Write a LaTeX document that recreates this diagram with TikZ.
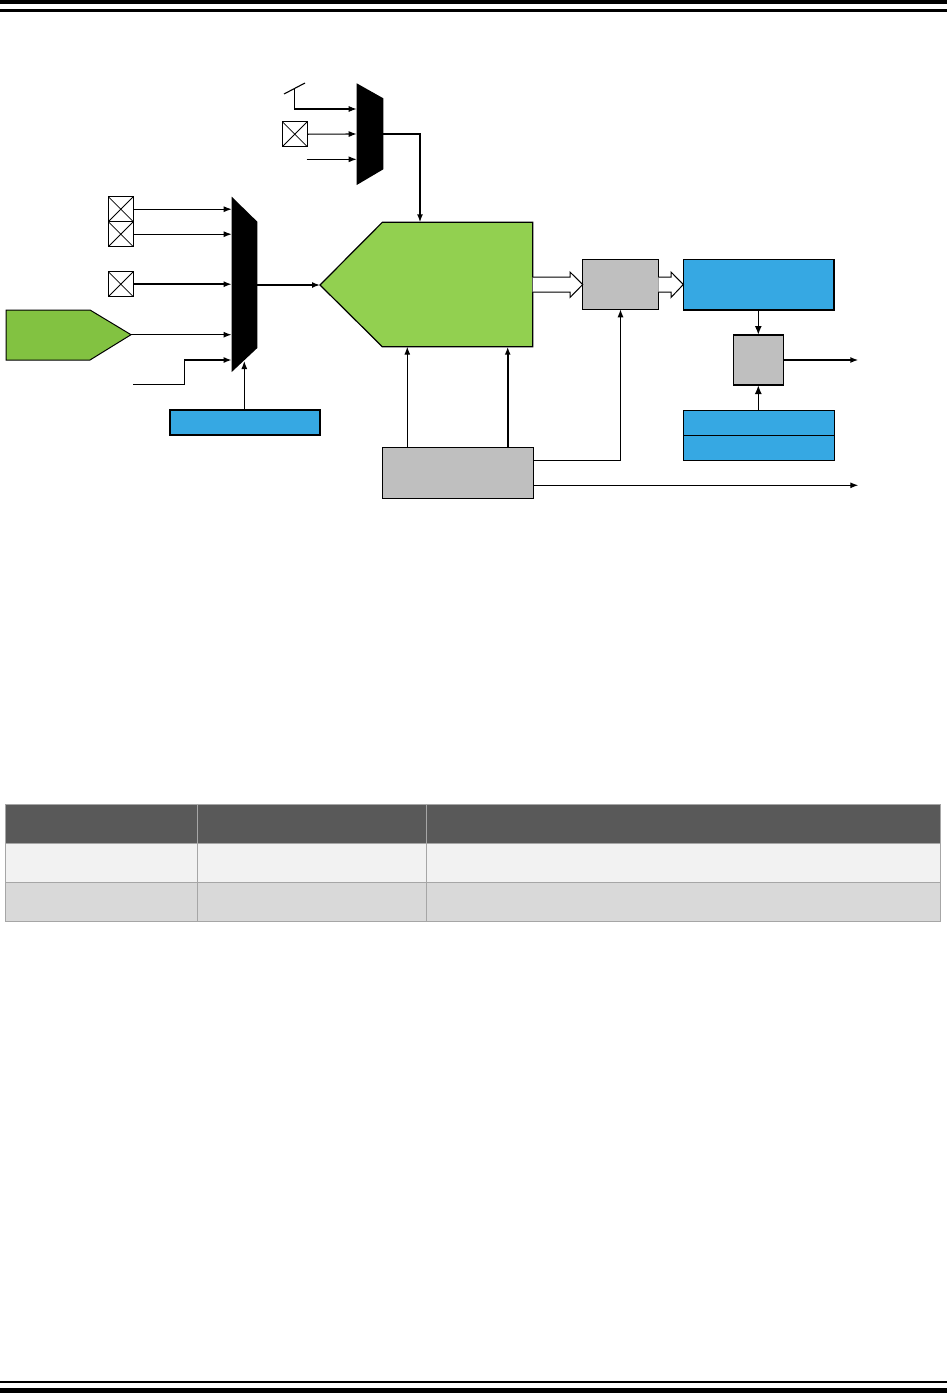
\documentclass[tikz,border=0pt]{standalone}
\usetikzlibrary{arrows.meta}
\definecolor{adcgreen}{HTML}{92D050}
\definecolor{srcgreen}{HTML}{82C241}
\definecolor{regblue}{HTML}{36A8E3}
\definecolor{blkgray}{HTML}{BFBFBF}
\definecolor{thead}{HTML}{595959}
\definecolor{trowa}{HTML}{F2F2F2}
\definecolor{trowb}{HTML}{D9D9D9}
\definecolor{tline}{HTML}{A6A6A6}
\begin{document}
\begin{tikzpicture}[x=1pt,y=-1pt,
  sig/.style={line width=1.1pt,-{Latex[length=8pt,width=6pt]}},
  sigthick/.style={line width=1.6pt,-{Latex[length=9pt,width=7pt]}},
  wire/.style={line width=1.1pt},
  rbox/.style={draw=black,line width=1.3pt,inner sep=0pt,outer sep=0pt,anchor=north west},
  padbox/.style={rbox,fill=white,minimum width=25pt,minimum height=25pt},
  hollow/.style={draw=black,line width=1pt,fill=white,line join=miter}]
\useasboundingbox (0,0) rectangle (947,1393);
% page header / footer rules
\fill (0,0) rectangle (947,4.3);
\fill (0,9.3) rectangle (947,12);
\fill (0,1380.7) rectangle (947,1382.7);
\fill (0,1387.7) rectangle (947,1393);

% ---------- upper multiplexer ----------
\fill (356.7,83.3) -- (383.3,98.3) -- (383.3,169.3) -- (356.7,185) -- cycle;
\coordinate (m1a) at (356.7,109);
\coordinate (m1b) at (356.7,134);
\coordinate (m1c) at (356.7,159.3);
\coordinate (m1out) at (383.3,134);
% switch symbol
\draw[wire] (284,94) -- (305,83);
\coordinate (sw) at (294.3,89.3);
\draw[sig] (sw) |- (m1a);
% pad
\node[padbox] (pad0) at (282.3,121.7) {};
\draw[line width=0.8pt] (pad0.north west) -- (pad0.south east) (pad0.north east) -- (pad0.south west);
\draw[sig] (pad0.east) -- (m1b);
\coordinate (in3) at (306.7,159.3);
\draw[sig] (in3) -- (m1c);

% ---------- lower (channel) multiplexer ----------
\fill (231.7,196.7) -- (257.3,221.7) -- (257.3,348) -- (231.7,372) -- cycle;
\coordinate (m2L) at (231.7,200);
\coordinate (m2out) at (257.3,285);
\coordinate (m2sel) at (244.3,361);
\node[padbox] (pad1) at (108.3,196.7) {};
\node[padbox] (pad2) at (108.3,221.7) {};
\node[padbox] (pad3) at (108.3,271.7) {};
\foreach \p in {pad1,pad2,pad3}
  \draw[line width=0.8pt] (\p.north west) -- (\p.south east) (\p.north east) -- (\p.south west);
\draw[sig] (pad1.east) -- (pad1.east -| m2L);
\draw[sig] (pad2.east) -- (pad2.east -| m2L);
\draw[sig,line width=1.5pt] (pad3.east) -- (pad3.east -| m2L);
% green source
\fill[srcgreen,draw=black,line width=1pt] (6,310) -- (90,310) -- (131,334.7) -- (90,360) -- (6,360) -- cycle;
\coordinate (srctip) at (131,334.7);
\draw[sig,line width=1.5pt] (srctip) -- (srctip -| m2L);
% step input
\coordinate (stepin) at (133.3,384.3);
\coordinate (stepmid) at (184.3,360);
\draw[sig,line width=1.5pt] (stepin) -| (stepmid) -- (stepmid -| m2L);
% select register
\node[rbox,fill=regblue,minimum width=150pt,minimum height=25pt] (chsel) at (170,410) {};
\draw[sig] (chsel.north -| m2sel) -- (m2sel);

% ---------- ADC ----------
\fill[adcgreen,draw=black,line width=1.2pt] (320,285) -- (382.3,222.3) -- (532.7,222.3) -- (532.7,346.7) -- (382.3,346.7) -- cycle;
\coordinate (adcin) at (320,285);
\coordinate (adctop) at (420,222.3);
\coordinate (adcb1) at (407.3,346.7);
\coordinate (adcb2) at (507.7,346.7);
\draw[sig,line width=1.5pt] (m2out) -- (adcin);
\draw[sig,line width=1.5pt] (m1out) -| (adctop);

% ---------- result register path ----------
\node[rbox,fill=blkgray,minimum width=75.6pt,minimum height=50pt] (dbuf) at (582.7,259.3) {};
\node[rbox,fill=regblue,minimum width=150.7pt,minimum height=50.7pt] (resreg) at (683.3,259.3) {};
\draw[hollow] (532.7,277) -- (570,277) -- (570,272) -- (582.7,284.5) -- (570,297.5) -- (570,292) -- (532.7,292);
\draw[hollow] (658.3,277) -- (671,277) -- (671,272) -- (683.3,284.5) -- (671,297.5) -- (671,292) -- (658.3,292);
\node[rbox,fill=blkgray,minimum width=50pt,minimum height=50pt] (cmp) at (733.3,335) {};
\node[rbox,fill=regblue,minimum width=151pt,minimum height=50pt] (thr) at (683.3,410.3) {};
\draw[line width=1pt] (thr.west) -- (thr.east);
\draw[sigthick] (resreg.south -| cmp.north) -- (cmp.north);
\draw[sigthick] (thr.north -| cmp.south) -- (cmp.south);
\coordinate (cmpoutend) at (858.3,360);
\draw[sig,line width=1.5pt] (cmp.east) -- (cmpoutend);

% ---------- controller ----------
\node[rbox,fill=blkgray,minimum width=151pt,minimum height=50.6pt] (ctrl) at (382.3,447.7) {};
\draw[sig] (ctrl.north -| adcb1) -- (adcb1);
\draw[sig,line width=1.7pt] (ctrl.north -| adcb2) -- (adcb2);
\coordinate (c1) at (533.3,460.3);
\coordinate (c2) at (533.3,485.3);
\coordinate (ctrlend) at (858.3,485.3);
\draw[sig] (c1) -| (dbuf.south);
\draw[sig] (c2) -- (ctrlend);

% ---------- table ----------
\fill[thead] (5.3,804.3) rectangle (940,843.3);
\fill[trowa] (5.3,843.3) rectangle (940,882.3);
\fill[trowb] (5.3,882.3) rectangle (940,921.7);
\draw[tline,line width=1pt] (5.3,804.3) rectangle (940,921.7);
\draw[tline,line width=1pt] (5.3,843.3) -- (940,843.3) (5.3,882.3) -- (940,882.3);
\draw[tline,line width=1pt] (197.7,804.3) -- (197.7,921.7) (426.7,804.3) -- (426.7,921.7);
\end{tikzpicture}
\end{document}
